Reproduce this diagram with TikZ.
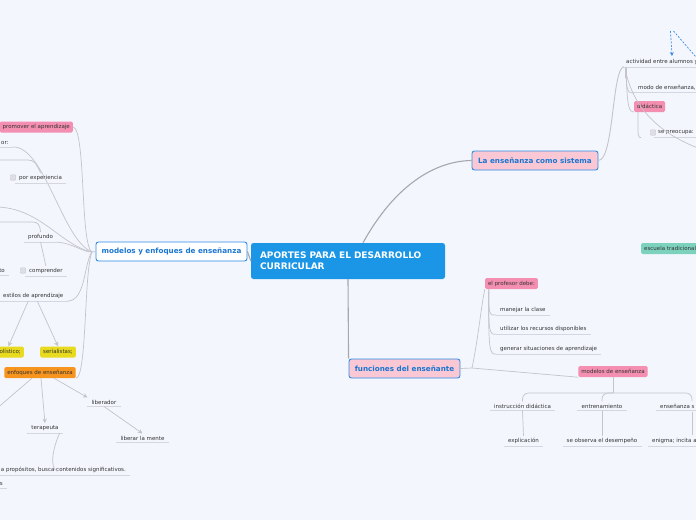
\documentclass[tikz,border=0pt]{standalone}
\usepackage{fontspec}
\setmainfont{DejaVu Sans}
\usetikzlibrary{arrows.meta}
\definecolor{bgc}{RGB}{243,246,253}
\definecolor{cblue}{RGB}{27,150,230}
\definecolor{bord}{RGB}{45,140,230}
\definecolor{btxt}{RGB}{25,118,210}
\definecolor{pinkl}{RGB}{250,200,212}
\definecolor{pinkd}{RGB}{244,143,177}
\definecolor{yel}{RGB}{232,218,30}
\definecolor{ora}{RGB}{247,148,30}
\definecolor{teal}{RGB}{125,210,190}
\definecolor{txt}{RGB}{51,51,51}
\definecolor{lineg}{RGB}{196,196,202}
\definecolor{ulc}{RGB}{212,215,224}
\definecolor{dashb}{RGB}{60,140,230}
\definecolor{chkf}{RGB}{222,223,228}
\definecolor{chkb}{RGB}{200,200,206}
\tikzset{
  small/.style={font=\fontsize{5.5}{6.5}\selectfont, text=txt, inner xsep=4pt, inner ysep=2.2pt},
  topic/.style={small, append after command={\pgfextra{\let\mynode\tikzlastnode}
      (\mynode.south west) edge[draw=ulc, line width=0.8pt] (\mynode.south east)}},
  boxlbl/.style={small, rounded corners=1.5pt, minimum height=11pt, inner xsep=3pt, inner ysep=0pt},
  pinkbox/.style={boxlbl, fill=pinkd},
  yelbox/.style={boxlbl, fill=yel},
  orabox/.style={boxlbl, fill=ora},
  tealbox/.style={boxlbl, fill=teal},
  mainbox/.style={draw=bord, line width=0.9pt, rounded corners=2.5pt, text=btxt,
      font=\fontsize{7.2}{9}\selectfont\bfseries, inner sep=0pt, minimum height=19pt},
  central/.style={fill=cblue, rounded corners=2.5pt, text=white,
      font=\fontsize{9}{11}\selectfont\bfseries, minimum width=194pt, minimum height=36pt,
      text width=176pt, align=left, inner sep=0pt},
  chk/.style={draw=chkb, fill=chkf, rounded corners=0.8pt, minimum size=5.5pt, inner sep=0pt, line width=0.4pt},
  conn/.style={draw=lineg, line width=0.7pt},
  mconn/.style={draw=lineg!85!black, line width=1.1pt},
  arr/.style={conn, -{Stealth[length=4.5pt,width=4.5pt]}},
  darr/.style={draw=dashb, line width=0.7pt, dash pattern=on 2pt off 1.5pt, -{Stealth[length=4pt,width=4pt]}}
}
\begin{document}
\begin{tikzpicture}[x=1pt,y=-1pt]
\useasboundingbox (0,0) rectangle (696,520);
\fill[bgc] (0,0) rectangle (696,520);
\begin{scope}
\clip (0,0) rectangle (696,520);

% ---------- main nodes ----------
\node[central] (c) at (348,261) {APORTES PARA EL DESARROLLO\\CURRICULAR};
\node[mainbox, fill=white, minimum width=151pt] (me) at (171.5,251.5) {modelos y enfoques de enseñanza};
\node[mainbox, fill=pinkl, minimum width=126pt] (ens) at (535,160.5) {La enseñanza como sistema};
\node[mainbox, fill=pinkl, minimum width=111pt] (fun) at (404.5,368.5) {funciones del enseñante};

\draw[mconn] (c.west) -- (me.east);
\draw[mconn] ([xshift=15pt]c.north) .. controls (395,185) and (435,161) .. (ens.west);
\draw[mconn] (c.south) -- (fun.north west);

% ---------- left branch ----------
\coordinate (hl) at (92,252);
\draw[conn] (me.west) -- (hl);

\node[pinkbox, anchor=east] (prom) at (73,127) {promover el aprendizaje};
\draw[conn] (prom.east) .. controls (86,129) and (80,245) .. (hl);

\node[topic, anchor=west] (orr) at (-3,143) {or:};
\draw[conn] (orr.south east) .. controls (45,146) and (62,240) .. (hl);

\coordinate (s1) at (-5,160);
\node[topic, anchor=west] (pe) at (15,178) {por experiencia};
\node[chk] (pec) at (13,177.5) {};
\draw[conn] (s1) -- (28,160) .. controls (34,160) and (36,163) .. (pe.north);

\coordinate (s2) at (-5,207);
\draw[conn] (s2) .. controls (40,207) and (60,245) .. (hl);

\coordinate (s3) at (-5,222);
\node[topic, anchor=west] (pro) at (24,237) {profundo};
\draw[conn] (s3) -- (33,222) .. controls (38,222) and (40,225) .. (pro.north);
\draw[conn] (pro.south east) .. controls (75,244) and (82,252) .. (hl);

\node[topic, anchor=west] (comp) at (25,271) {comprender};
\node[chk] (compc) at (23,270.5) {};
\draw[conn] (pro.south) -- (comp.north);

\node[topic, anchor=east] (to) at (9,271) {to};

\node[topic, anchor=west] (est) at (-1,296) {estilos de aprendizaje};
\draw[conn] (est.south east) .. controls (86,301) and (84,262) .. (hl);

\node[yelbox, anchor=east] (hol) at (24,352) {holístico;};
\node[yelbox] (ser) at (58,352) {serialistas;};
\draw[arr] ([xshift=-5pt]est.south) -- (hol.north);
\draw[arr] ([xshift=4pt]est.south) -- (ser.north);

\node[orabox] (enf) at (40,372.5) {enfoques de enseñanza};
\draw[conn] (enf.south east) .. controls (87,378) and (84,270) .. (hl);

\coordinate (offl) at (-12,416);
\draw[arr] ([xshift=-8pt]enf.south) -- (offl);
\node[topic] (ter) at (45,428) {terapeuta};
\draw[arr] ([xshift=1pt]enf.south) -- (ter.north);
\node[topic] (lib) at (104,402) {liberador};
\draw[arr] ([xshift=14pt]enf.south) -- (lib.north west);
\node[topic] (lm) at (142.5,438) {liberar la mente};
\draw[arr] (lib.south) -- (lm.north);

\node[topic, anchor=east] (lt) at (130,470) {a propósitos, busca contenidos significativos.};
\coordinate (lte) at (57,471);
\draw[conn] ([xshift=-3pt]ter.south east) .. controls (52,450) and (50,468) .. (lte);

\node[topic, anchor=east] (ss) at (7,484) {s};

% ---------- right top branch ----------
\coordinate (hr) at (624,67);
\coordinate (hr2) at (626,78);
\draw[conn, line width=0.9pt] (ens.east) .. controls (614,160) and (612,67) .. (hr);
\draw[draw=lineg, line width=1.6pt] ([xshift=2pt]hr) -- (hr2);

\node[topic, anchor=west] (act) at (622,62) {actividad entre alumnos y};
\draw[conn] (hr) -- (act.south west);
\coordinate (rel) at (670.5,31);
\coordinate (rele) at (672,56);
\coordinate (rele2) at (702,64);
\draw[darr] (rel) -- (rele);
\draw[darr] ([xshift=3pt]rel) -- (rele2);

\node[topic, anchor=west] (modo) at (634,88) {modo de enseñanza,};
\draw[conn] ([xshift=2pt]hr) .. controls (626,92) and (628,93.5) .. (modo.south west);

\node[pinkbox, anchor=west] (did) at (634,106.5) {didáctica};
\draw[conn] ([xshift=2pt]hr) .. controls (627,108) and (629,112) .. (did.south west);

\node[topic, anchor=west] (sep) at (654,133) {se preocupa:};
\node[chk] (sepc) at (653,132.5) {};
\draw[conn] ([xshift=4pt]did.south west) -- (638,132) .. controls (638,136) and (640,138.5) .. ([xshift=-13pt]sep.south west);

\coordinate (offr) at (706,151);
\draw[conn] ([xshift=2pt,yshift=-6pt]hr) .. controls (635,110) and (660,135) .. (offr);

\node[tealbox, anchor=west] (esc) at (641,248.5) {escuela tradicional};

% ---------- bottom right branch ----------
\coordinate (hf) at (472,368);
\draw[conn] (fun.east) -- (hf);
\node[pinkbox] (pd) at (511.5,283.5) {el profesor debe:};
\draw[conn] (hf) .. controls (478,340) and (482,300) .. (pd.south west);

\node[topic, anchor=west] (man) at (496,310) {manejar la clase};
\node[topic, anchor=west] (uti) at (496,329) {utilizar los recursos disponibles};
\node[topic, anchor=west] (gen) at (496,349) {generar situaciones de aprendizaje};
\draw[conn] ([xshift=4pt]pd.south west) .. controls (488,314) and (490,316) .. (man.south west);
\draw[conn] ([xshift=4pt]pd.south west) .. controls (488,333) and (490,335) .. (uti.south west);
\draw[conn] ([xshift=4pt]pd.south west) .. controls (488,352) and (490,354.5) .. (gen.south west);

\node[pinkbox] (mod) at (613,371.5) {modelos de enseñanza};
\draw[conn] (hf) -- (mod.south west);

\coordinate (mj) at (613,393);
\node[topic] (ins) at (522.5,406) {instrucción didáctica};
\node[topic] (ent) at (602,406) {entrenamiento};
\node[topic, anchor=west] (esn) at (656,406) {enseñanza s};
\coordinate (esb) at (692,401);
\draw[conn] (mod.south) -- (mj);
\draw[conn, rounded corners=6pt] (mj) -| (ins.north);
\draw[conn, rounded corners=6pt] (mj) -| (ent.north);
\draw[conn, rounded corners=6pt] (mj) -| (esb);

\node[topic] (exp) at (523.5,441) {explicación};
\node[topic] (obs) at (602,441) {se observa el desempeño};
\node[topic, anchor=west] (eni) at (648,441) {enigma; incita a};
\coordinate (esb2) at (692,412);
\coordinate (esb3) at (692,435);
\draw[conn] (ins.south) -- (exp.north);
\draw[conn] (ent.south) -- (obs.north);
\draw[conn] (esb2) -- (esb3);
\end{scope}
\end{tikzpicture}
\end{document}
